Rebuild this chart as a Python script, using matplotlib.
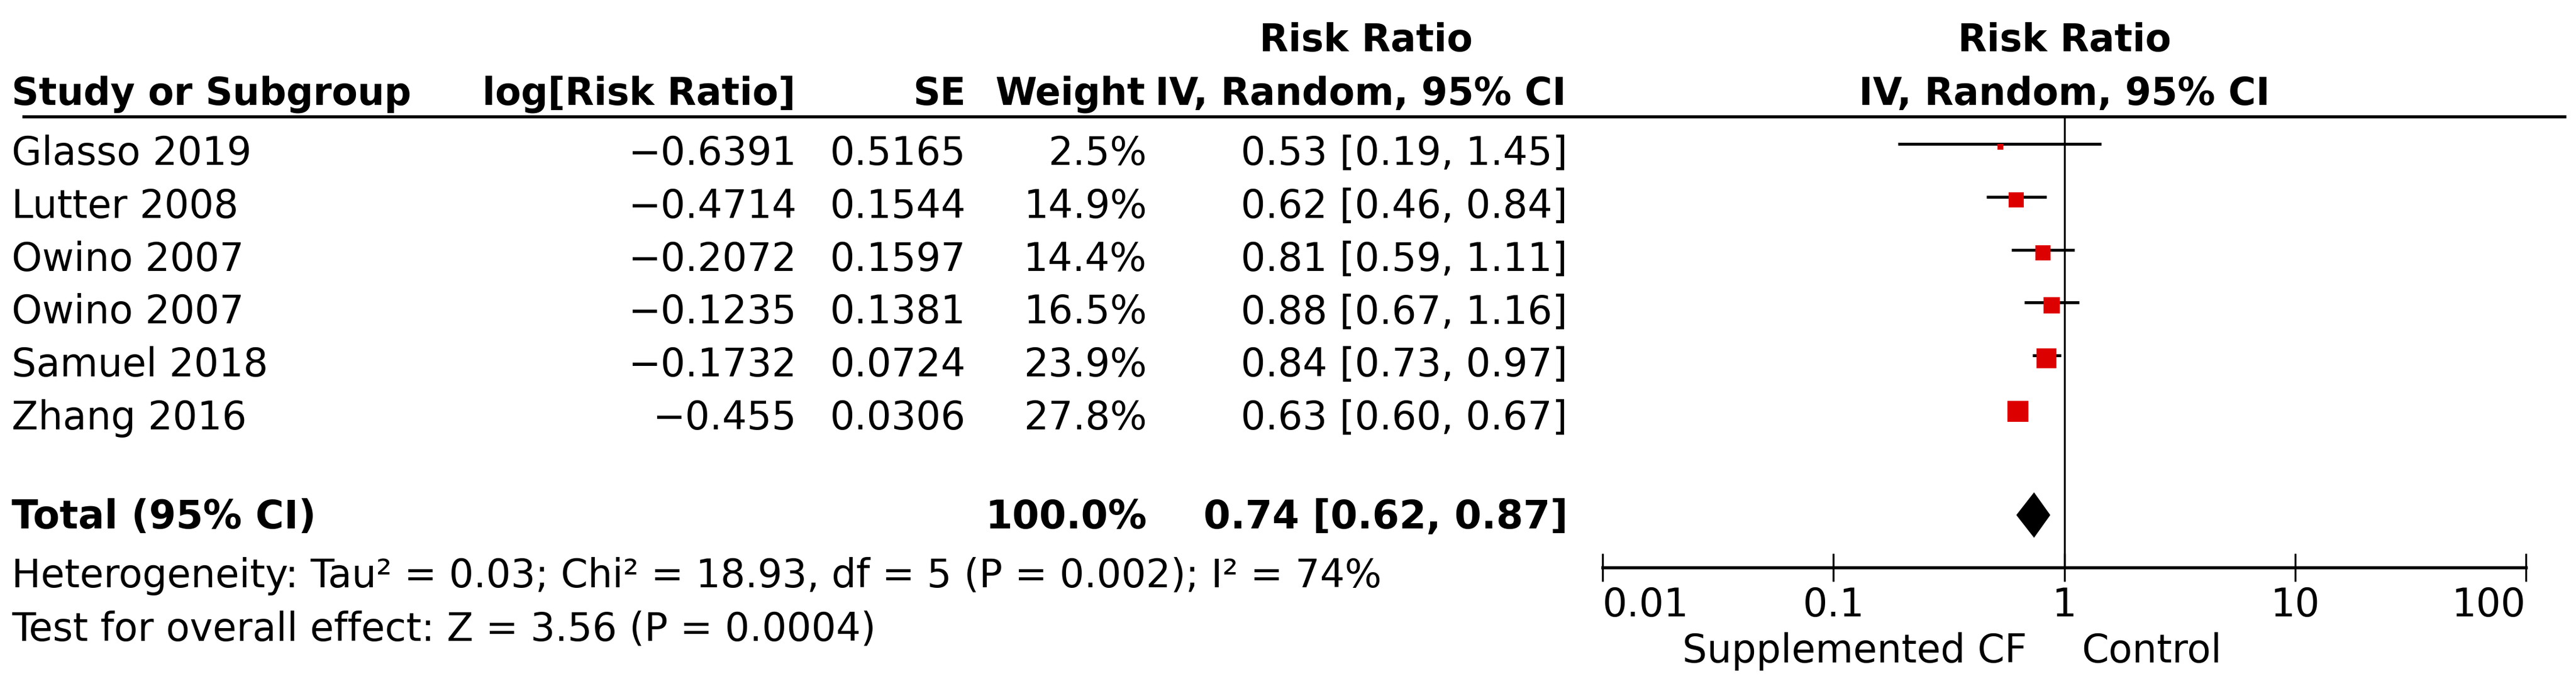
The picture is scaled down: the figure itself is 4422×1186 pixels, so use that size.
import numpy as np
import matplotlib
matplotlib.use("Agg")
import matplotlib.pyplot as plt

# study data
studies = ["Glasso 2019", "Lutter 2008", "Owino 2007", "Owino 2007", "Samuel 2018", "Zhang 2016"]
log_rr = [-0.6391, -0.4714, -0.2072, -0.1235, -0.1732, -0.455]
se = [0.5165, 0.1544, 0.1597, 0.1381, 0.0724, 0.0306]
weight = [2.5, 14.9, 14.4, 16.5, 23.9, 27.8]
rr = [0.53, 0.62, 0.81, 0.88, 0.84, 0.63]
ci_lo = [0.19, 0.46, 0.59, 0.67, 0.73, 0.60]
ci_hi = [1.45, 0.84, 1.11, 1.16, 0.97, 0.67]

total_rr, total_lo, total_hi = 0.74, 0.62, 0.87
total_weight = 100.0
het_text = "Heterogeneity: Tau² = 0.03; Chi² = 18.93, df = 5 (P = 0.002); I² = 74%"
effect_text = "Test for overall effect: Z = 3.56 (P = 0.0004)"
xticks = [0.01, 0.1, 1, 10, 100]
xticklabels = ["0.01", "0.1", "1", "10", "100"]
left_label, right_label = "Supplemented CF", "Control"

W, H = 4422, 1186
DPI = 300
FS = 16
HFS = 15.5  # header font size
plt.rcParams['font.family'] = ['DejaVu Sans']

fig = plt.figure(figsize=(W / DPI, H / DPI), dpi=DPI)

# background axes in pixel coordinates for the table
bg = fig.add_axes([0, 0, 1, 1])
bg.set_xlim(0, W)
bg.set_ylim(H, 0)
bg.axis("off")

# forest axes: log scale, pixel y
x_lo_px, x_hi_px = 2751, 4336
y_top, y_axis = 200, 974
fa = fig.add_axes([x_lo_px / W, (H - y_axis) / H, (x_hi_px - x_lo_px) / W, (y_axis - y_top) / H])
fa.set_xscale("log")
fa.set_xlim(0.01, 100)
fa.set_ylim(y_axis, y_top)
fa.patch.set_alpha(0)
for s in ["top", "left", "right"]:
    fa.spines[s].set_visible(False)
fa.spines["bottom"].set_linewidth(1.3)
fa.set_yticks([])
fa.set_xticks(xticks)
fa.set_xticklabels(xticklabels)
fa.minorticks_off()
fa.tick_params(axis="x", direction="inout", length=11.5, width=0.8, labelsize=FS, pad=2)
tl = fa.get_xticklabels()
tl[0].set_ha("left")
tl[-1].set_ha("right")
fa.axvline(1, color="black", lw=0.8)

row0, row_step = 247, 90.8
rows = [row0 + i * row_step for i in range(len(studies))]
base_off = 36

# header
bg.text(2345, 88, "Risk Ratio", ha="center", va="baseline", fontsize=HFS, fontweight="bold")
bg.text(3544, 88, "Risk Ratio", ha="center", va="baseline", fontsize=HFS, fontweight="bold")
bg.text(20, 180, "Study or Subgroup", ha="left", va="baseline", fontsize=HFS, fontweight="bold")
bg.text(1366, 180, "log[Risk Ratio]", ha="right", va="baseline", fontsize=HFS, fontweight="bold")
bg.text(1658, 180, "SE", ha="right", va="baseline", fontsize=HFS, fontweight="bold")
bg.text(1966, 180, "Weight", ha="right", va="baseline", fontsize=HFS, fontweight="bold")
bg.text(2689, 180, "IV, Random, 95% CI", ha="right", va="baseline", fontsize=HFS, fontweight="bold")
bg.text(3544, 180, "IV, Random, 95% CI", ha="center", va="baseline", fontsize=HFS, fontweight="bold")
bg.plot([38, 4405], [200, 200], color="black", lw=1.3, solid_capstyle="butt")

# study rows
for i, name in enumerate(studies):
    yb = rows[i] + base_off
    bg.text(20, yb, name, ha="left", va="baseline", fontsize=FS)
    bg.text(1368, yb, str(log_rr[i]).replace("-", "\u2212"), ha="right", va="baseline", fontsize=FS)
    bg.text(1658, yb, f"{se[i]:.4f}", ha="right", va="baseline", fontsize=FS)
    bg.text(1969, yb, f"{weight[i]:.1f}%", ha="right", va="baseline", fontsize=FS)
    bg.text(2691, yb, f"{rr[i]:.2f} [{ci_lo[i]:.2f}, {ci_hi[i]:.2f}]", ha="right", va="baseline", fontsize=FS)
    fa.plot([ci_lo[i], ci_hi[i]], [rows[i], rows[i]], color="black", lw=1.2, solid_capstyle="butt", zorder=2)
    fa.plot(rr[i], rows[i] + 5, marker="s", ms=1.64 * np.sqrt(weight[i]), color="#dd0000", mec="none", zorder=3)

# total
yt = 907
bg.text(20, yt, "Total (95% CI)", ha="left", va="baseline", fontsize=FS, fontweight="bold")
bg.text(1969, yt, f"{total_weight:.1f}%", ha="right", va="baseline", fontsize=FS, fontweight="bold")
bg.text(2691, yt, f"{total_rr:.2f} [{total_lo:.2f}, {total_hi:.2f}]", ha="right", va="baseline", fontsize=FS, fontweight="bold")
dy = 884
fa.fill([total_lo, total_rr, total_hi, total_rr], [dy, dy - 39, dy, dy + 39], color="black", lw=0, zorder=3)

bg.text(20, 1008, het_text, ha="left", va="baseline", fontsize=FS)
bg.text(20, 1100, effect_text, ha="left", va="baseline", fontsize=FS)

# direction labels under the axis
fa.text(0.69, 1137, left_label, ha="right", va="baseline", fontsize=FS, clip_on=False)
fa.text(1.19, 1137, right_label, ha="left", va="baseline", fontsize=FS, clip_on=False)

fig.savefig("out.png", dpi=DPI)
